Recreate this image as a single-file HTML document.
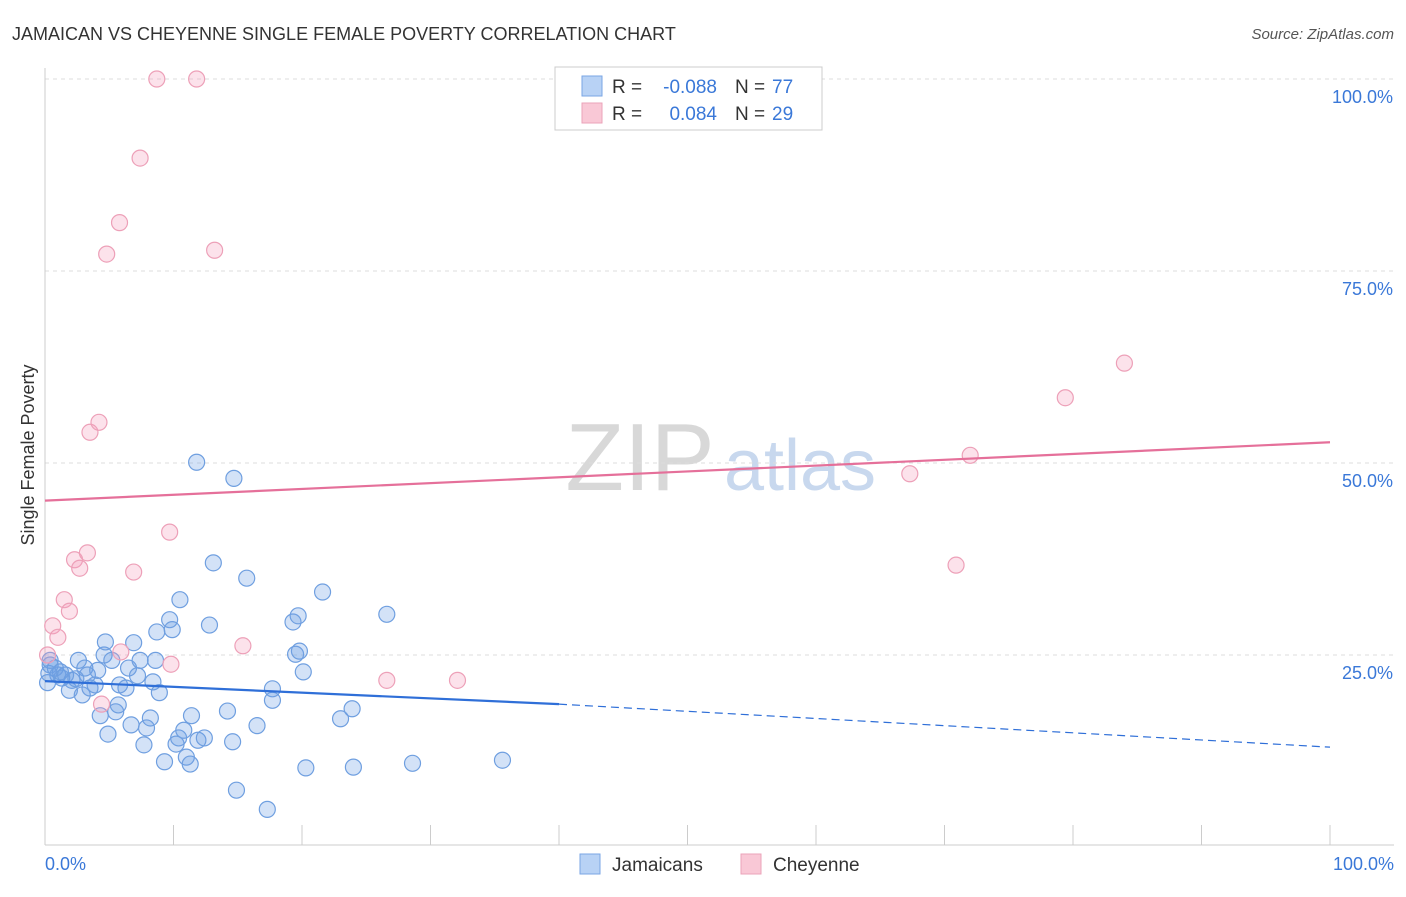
<!DOCTYPE html>
<html><head><meta charset="utf-8"><style>
body{margin:0;background:#fff;font-family:"Liberation Sans",sans-serif}
svg text{font-family:"Liberation Sans",sans-serif}
</style></head><body>
<svg id="chart" width="1406" height="892" xmlns="http://www.w3.org/2000/svg">
<text x="12" y="40" font-size="18" fill="#333">JAMAICAN VS CHEYENNE SINGLE FEMALE POVERTY CORRELATION CHART</text>
<text x="1394" y="39" font-size="15" fill="#555" font-style="italic" text-anchor="end">Source: ZipAtlas.com</text>
<text x="640" y="490" font-size="96" fill="#d8d8d8" font-family="Liberation Serif" text-anchor="middle">ZIP</text>
<text x="800" y="490" font-size="72" fill="#c8d8ee" text-anchor="middle">atlas</text>
<g id="grid"></g><g id="axes"></g><g id="marks"></g>
<text transform="translate(34,455) rotate(-90)" font-size="18" fill="#333" text-anchor="middle">Single Female Poverty</text>
<text x="45" y="870" font-size="18" fill="#3a78d8">0.0%</text>
<text x="1394" y="870" font-size="18" fill="#3a78d8" text-anchor="end">100.0%</text>
<g>
<rect x="555" y="67" width="267" height="63" fill="#fff" stroke="#ccc"/>
<rect x="582" y="76" width="20" height="20" fill="#b8d2f5" stroke="#7aa6e4"/>
<rect x="582" y="103" width="20" height="20" fill="#f9c8d6" stroke="#eba3b9"/>
<text x="612" y="93" font-size="19" fill="#333">R =</text>
<text x="717" y="93" font-size="19" fill="#3a78d8" text-anchor="end">-0.088</text>
<text x="735" y="93" font-size="19" fill="#333">N =</text>
<text x="772" y="93" font-size="19" fill="#3a78d8">77</text>
<text x="612" y="120" font-size="19" fill="#333">R =</text>
<text x="717" y="120" font-size="19" fill="#3a78d8" text-anchor="end">0.084</text>
<text x="735" y="120" font-size="19" fill="#333">N =</text>
<text x="772" y="120" font-size="19" fill="#3a78d8">29</text>
</g>
<g>
<rect x="580" y="854" width="20" height="20" fill="#b8d2f5" stroke="#7aa6e4"/>
<text x="612" y="871" font-size="19" fill="#333">Jamaicans</text>
<rect x="741" y="854" width="20" height="20" fill="#f9c8d6" stroke="#eba3b9"/>
<text x="773" y="871" font-size="19" fill="#333">Cheyenne</text>
</g>
</svg>
<script>
const yTicks=[25,50,75,100];
const yTickLabels=["25.0%","50.0%","75.0%","100.0%"];
const xTicks=[0,10,20,30,40,50,60,70,80,90,100];
const blueX=[0.4,0.8,1.0,1.3,0.2,1.9,2.1,2.6,2.9,3.1,3.3,3.5,3.9,4.1,4.3,4.6,4.7,4.9,5.2,5.5,5.7,5.8,6.3,6.5,6.7,6.9,7.2,7.4,7.7,7.9,8.2,8.4,8.6,8.7,8.9,9.3,9.7,9.9,10.2,10.4,10.5,10.8,11.0,11.3,11.4,11.8,11.9,12.4,12.8,13.1,14.2,14.6,14.7,14.9,15.7,16.5,17.3,17.7,17.7,19.3,19.5,19.7,19.8,20.1,20.3,21.6,23.0,23.9,24.0,26.6,28.6,35.6,0.4,1.2,1.6,0.3,2.4];
const blueY=[23.7,23.3,22.4,22.0,21.4,20.4,21.7,24.3,19.8,23.3,22.4,20.7,21.1,23.0,17.1,25.0,26.7,14.7,24.3,17.6,18.5,21.1,20.7,23.3,15.9,26.6,22.3,24.3,13.3,15.5,16.8,21.5,24.3,28.0,20.1,11.1,29.6,28.3,13.4,14.2,32.2,15.2,11.7,10.8,17.1,50.1,13.9,14.2,28.9,37.0,17.7,13.7,48.0,7.4,35.0,15.8,4.9,19.1,20.6,29.3,25.1,30.1,25.5,22.8,10.3,33.2,16.7,18.0,10.4,30.3,10.9,11.3,24.3,22.8,22.4,22.6,21.9];
const pinkX=[0.2,0.6,1.0,1.5,1.9,2.3,2.7,3.3,3.5,4.2,4.8,5.8,6.9,7.4,8.7,11.8,4.4,5.9,9.7,9.8,13.2,15.4,26.6,32.1,67.3,70.9,72.0,79.4,84.0];
const pinkY=[25.0,28.8,27.3,32.2,30.7,37.4,36.3,38.3,54.0,55.3,77.2,81.3,35.8,89.7,100,100,18.6,25.4,41.0,23.8,77.7,26.2,21.7,21.7,48.6,36.7,51.0,58.5,63.0];
const blueTrend=[21.6,18.6,13.0];
const pinkTrend=[45.1,52.7];
const NS="http://www.w3.org/2000/svg";
const X=v=>45+v*12.85, Y=v=>847-v*7.68;
function mk(t,a,p){const e=document.createElementNS(NS,t);for(const k in a)e.setAttribute(k,a[k]);document.getElementById(p).appendChild(e);return e;}
yTicks.forEach((t,i)=>{
 const g=mk('line',{x1:45,x2:1394,y1:Y(t),y2:Y(t),stroke:'#ddd','stroke-dasharray':'4,4'},'grid');
 
 
 const l=mk('text',{x:1393,y:Y(t)+24,'font-size':18,fill:'#3a78d8','text-anchor':'end'},'axes');l.textContent=yTickLabels[i];
 
 
});
const ax=mk('line',{x1:45,x2:45,y1:68,y2:845,stroke:'#ccc'},'axes');


const bx=mk('line',{x1:45,x2:1394,y1:845,y2:845,stroke:'#ccc'},'axes');


xTicks.forEach(t=>{const e=mk('line',{x1:X(t),x2:X(t),y1:825,y2:845,stroke:'#ccc'},'axes');
 
 });
blueX.forEach((x,i)=>{const c=mk('circle',{cx:X(x),cy:Y(blueY[i]),r:8,fill:'rgba(110,160,230,0.3)',stroke:'#6f9fe0','stroke-width':1.2},'marks');
 
 });
pinkX.forEach((x,i)=>{const c=mk('circle',{cx:X(x),cy:Y(pinkY[i]),r:8,fill:'rgba(245,160,190,0.3)',stroke:'#eda0b8','stroke-width':1.2},'marks');
 
 });
const b1=mk('line',{x1:X(0),y1:Y(blueTrend[0]),x2:X(40),y2:Y(blueTrend[1]),stroke:'#2f6fd8','stroke-width':2.2},'marks');


const b2=mk('line',{x1:X(40),y1:Y(blueTrend[1]),x2:X(100),y2:Y(blueTrend[2]),stroke:'#2f6fd8','stroke-width':1.2,'stroke-dasharray':'8,5'},'marks');


const p1=mk('line',{x1:X(0),y1:Y(pinkTrend[0]),x2:X(100),y2:Y(pinkTrend[1]),stroke:'#e5709a','stroke-width':2.2},'marks');


</script>
</body></html>
